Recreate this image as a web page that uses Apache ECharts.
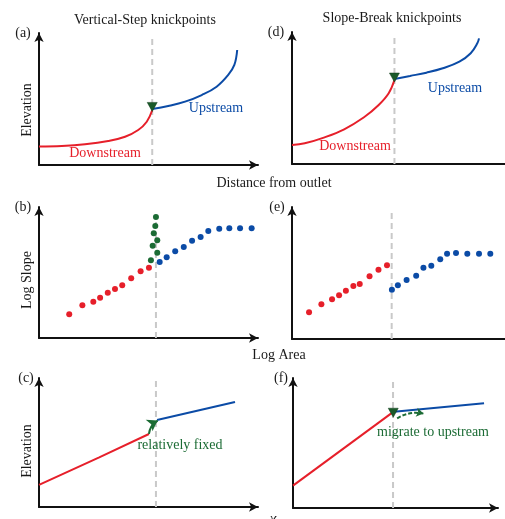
<!DOCTYPE html>
<html>
<head>
<meta charset="utf-8">
<script src="https://cdn.jsdelivr.net/npm/echarts@6/dist/echarts.min.js"></script>
<style>
  html, body { margin: 0; padding: 0; background: #fff; }
  #chart { width: 505px; height: 519px; }
</style>
</head>
<body>
<div id="chart"></div>
<script>
// schematic units, 0-100 on both axes of every panel

// (a) vertical-step knickpoint, long profile
const profileA_down = [[0, 14], [10.4, 14.4], [21, 15.7], [31.6, 18.2], [39.3, 21.4], [45.3, 26.5], [49.2, 32.8], [51.7, 41.5]]
const profileA_up = [[51.7, 42.4], [59, 44.7], [66.7, 48], [74.3, 53], [81.1, 59.3], [86.4, 68.2], [89.2, 75.8], [90.5, 87.1]]
const knickA = [[51.7, 44]]
const knickA_x = 51.7

// (d) slope-break knickpoint, long profile
const profileD_down = [[0, 14.4], [6, 15.7], [15.3, 20.2], [24.5, 26.3], [33.8, 35.4], [40.7, 44.7], [45.4, 53.6], [48.1, 63.6]]
const profileD_up = [[48.1, 64.4], [55.4, 66.7], [63.1, 69.2], [70.8, 72.5], [78.6, 77.5], [83.9, 83.9], [87, 91.4], [87.8, 95.2]]
const knickD = [[48.1, 65.5]]
const knickD_x = 48.1

// (b) slope-area, vertical step
const slopeB_down = [[13.8, 18.1], [19.8, 25], [24.8, 27.7], [27.9, 30.8], [31.4, 34.6], [34.7, 37.4], [38, 40.2], [42.1, 45.6], [46.4, 50.9], [50.2, 53.7]]
const slopeB_knick = [[51.1, 59.3], [54, 65.1], [51.9, 70.5], [54, 74.6], [52.4, 79.9], [53.1, 85.5], [53.4, 92.4]]
const slopeB_up = [[55.1, 58], [58.3, 61.6], [62.2, 66.2], [66.1, 69.5], [69.9, 74.3], [73.8, 77.1], [77.3, 81.7], [82.3, 83.4], [86.9, 83.7], [91.8, 83.7], [97.1, 83.7]]
const knickB_x = 53.4

// (e) slope-area, slope break
const slopeE_down = [[8, 20.2], [13.8, 26.3], [18.8, 30.1], [22.1, 33.1], [25.3, 36.6], [28.8, 40.2], [31.8, 41.7], [36.4, 47.5], [40.6, 52.5], [44.6, 55.8]]
const slopeE_up = [[46.9, 37.3], [49.7, 40.7], [53.8, 44.7], [58.3, 48], [61.7, 54], [65.4, 55.5], [69.6, 60.4], [72.8, 64.6], [77, 65.2], [82.3, 64.6], [87.8, 64.6], [93.1, 64.6]]
const knickE_x = 46.8

// (c) chi plot, vertical step
const chiC_down = [[0, 17.1], [27.5, 38.5], [50.2, 56.6]]
const chiC_up = [[53.9, 67.4], [89.5, 81.4]]
const chiC_arrow = [[50.2, 56.6], [54.2, 67]]
const knickC_x = 53.4

// (f) chi plot, slope break
const chiF_down = [[0, 17.2], [48.6, 73.6]]
const chiF_up = [[49.3, 74.1], [93.2, 80.5]]
const knickF = [[48.9, 73.3]]
const chiF_arrow = [[50.8, 69], [63.6, 72.6]]
const knickF_x = 48.8

const dashTop = [95.5, 93.9, 100, 95.5, 96.2, 97.7]

const RED = '#e61f2a'
const BLUE = '#0b4ba6'
const GREEN = '#1b6b34'
const DASH = '#c9c9c9'
const FONT = '"Liberation Serif", "DejaVu Serif", serif'

// panel boxes: a, b, c, d, e, f
const grids = [
  { left: 39, top: 33, width: 219, height: 132 },
  { left: 39, top: 207, width: 219, height: 131 },
  { left: 39, top: 378, width: 219, height: 129 },
  { left: 292, top: 32, width: 216, height: 132 },
  { left: 292, top: 207, width: 216, height: 132 },
  { left: 293, top: 378, width: 205, height: 130 }
]

// the d and e x axes run off the right edge, arrow not visible
const offEdge = [false, false, false, true, true, false]

function axis(i, isX) {
  return {
    type: 'value',
    gridIndex: i,
    min: 0,
    max: 100,
    axisLine: {
      show: true,
      onZero: false,
      symbol: ['none', 'arrow'],
      symbolSize: [7, 9],
      symbolOffset: isX && offEdge[i] ? [0, 14] : [0, 0],
      lineStyle: { color: '#111', width: 2 }
    },
    axisTick: { show: false },
    axisLabel: { show: false },
    splitLine: { show: false }
  }
}

function curve(i, data, color, smooth) {
  return {
    type: 'line',
    xAxisIndex: i,
    yAxisIndex: i,
    data,
    smooth,
    showSymbol: false,
    symbol: 'none',
    lineStyle: { color, width: 2 },
    z: 3
  }
}

function dots(i, data, color) {
  return {
    type: 'scatter',
    xAxisIndex: i,
    yAxisIndex: i,
    data,
    symbolSize: 6,
    itemStyle: { color, opacity: 1 },
    z: 4
  }
}

function dashed(i, x) {
  return {
    type: 'line',
    xAxisIndex: i,
    yAxisIndex: i,
    data: [[x, 0], [x, dashTop[i]]],
    symbol: 'none',
    lineStyle: { color: DASH, width: 2, type: [6, 4] },
    z: 1
  }
}

function knick(i, data) {
  return {
    type: 'scatter',
    xAxisIndex: i,
    yAxisIndex: i,
    data,
    symbol: 'triangle',
    symbolRotate: 180,
    symbolSize: [10, 9],
    itemStyle: { color: '#1a5a2a', borderColor: '#0e3a19', borderWidth: 0.5, opacity: 1 },
    z: 6
  }
}

function arrow(i, coords, dashedStyle, curveness) {
  return {
    type: 'lines',
    coordinateSystem: 'cartesian2d',
    xAxisIndex: i,
    yAxisIndex: i,
    symbol: ['none', 'arrow'],
    symbolSize: dashedStyle ? 7 : 10,
    lineStyle: { color: GREEN, width: 2, type: dashedStyle ? [4, 2] : 'solid', curveness, opacity: 1 },
    data: [{ coords }],
    z: 5
  }
}

function text(x, y, str, opts = {}) {
  return {
    type: 'text',
    x,
    y,
    rotation: opts.rotate || 0,
    style: {
      text: str,
      fill: opts.color || '#1a1a1a',
      font: (opts.italic ? 'italic ' : '') + (opts.size || 14) + 'px ' + FONT,
      textAlign: 'center',
      textVerticalAlign: opts.valign || 'middle'
    },
    z: 10
  }
}

const series = [
  // (a)
  dashed(0, knickA_x),
  curve(0, profileA_down, RED, 0.4),
  curve(0, profileA_up, BLUE, 0.4),
  knick(0, knickA),
  // (b)
  dashed(1, knickB_x),
  dots(1, slopeB_down, RED),
  dots(1, slopeB_knick, GREEN),
  dots(1, slopeB_up, BLUE),
  // (c)
  dashed(2, knickC_x),
  curve(2, chiC_down, RED, false),
  curve(2, chiC_up, BLUE, false),
  arrow(2, chiC_arrow, false, 0.25),
  // (d)
  dashed(3, knickD_x),
  curve(3, profileD_down, RED, 0.4),
  curve(3, profileD_up, BLUE, 0.4),
  knick(3, knickD),
  // (e)
  dashed(4, knickE_x),
  dots(4, slopeE_down, RED),
  dots(4, slopeE_up, BLUE),
  // (f)
  dashed(5, knickF_x),
  curve(5, chiF_down, RED, false),
  curve(5, chiF_up, BLUE, false),
  arrow(5, chiF_arrow, true, 0.2),
  knick(5, knickF)
]

const labels = [
  text(145, 20, 'Vertical-Step knickpoints'),
  text(392, 18, 'Slope-Break knickpoints'),
  text(274, 183, 'Distance from outlet'),
  text(279, 355, 'Log Area'),
  text(273, 512, 'χ', { italic: true, valign: 'top', size: 15 }),
  text(23, 33, '(a)'),
  text(23, 207, '(b)'),
  text(26, 378, '(c)'),
  text(276, 32, '(d)'),
  text(277, 207, '(e)'),
  text(281, 378, '(f)'),
  text(27, 110, 'Elevation', { rotate: Math.PI / 2 }),
  text(27, 280, 'Log Slope', { rotate: Math.PI / 2 }),
  text(27, 451, 'Elevation', { rotate: Math.PI / 2 }),
  text(105, 153, 'Downstream', { color: RED }),
  text(216, 108, 'Upstream', { color: BLUE }),
  text(355, 146, 'Downstream', { color: RED }),
  text(455, 88, 'Upstream', { color: BLUE }),
  text(180, 445, 'relatively fixed', { color: GREEN }),
  text(433, 432, 'migrate to upstream', { color: GREEN })
]

const chart = echarts.init(document.getElementById('chart'), null, { renderer: 'canvas' })

chart.setOption({
  animation: false,
  backgroundColor: '#fff',
  grid: grids,
  xAxis: grids.map((g, i) => axis(i, true)),
  yAxis: grids.map((g, i) => axis(i, false)),
  series,
  graphic: labels
})
</script>
</body>
</html>
